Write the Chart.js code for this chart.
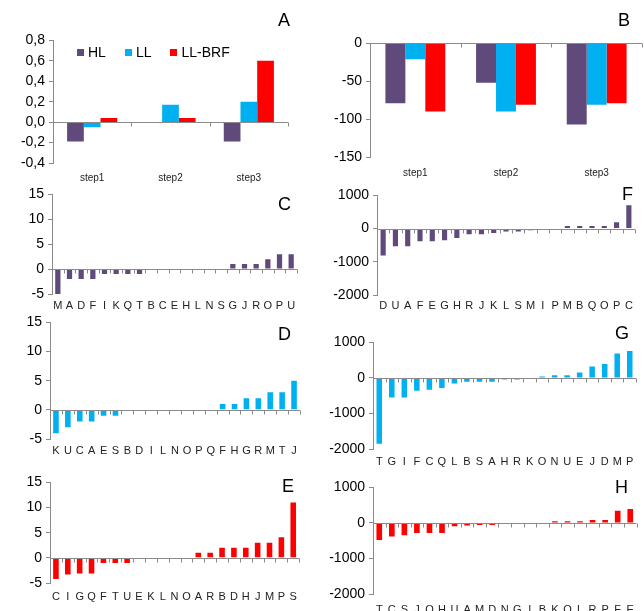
<!DOCTYPE html>
<html>
<head>
<meta charset="utf-8">
<script src="https://cdn.jsdelivr.net/npm/chart.js@4.4.1/dist/chart.umd.min.js"></script>
<style>
    body   { margin: 0; background: #fff; width: 644px; height: 611px; position: relative; overflow: hidden;
             font-family: "Liberation Sans", Arial, sans-serif; }
    .box   { position: absolute; }
    .tag   { position: absolute; font-size: 18px; line-height: 18px; color: #000; }
    .legend { position: absolute; left: 77px; top: 45px; display: flex; align-items: center;
              font-size: 14px; line-height: 14px; color: #000; }
    .legend span.sq { display: inline-block; width: 7px; height: 7px; margin-right: 4px; }
    .legend span.tx { margin-right: 19px; }
</style>
</head>
<body>
<script>
/* global Chart */

const FONT = '"Liberation Sans", Arial, sans-serif';
const AXIS = '#8a8a8a';

// ---------------------------------------------------------------------------
// Data
// ---------------------------------------------------------------------------

const seriesNames  = ['HL', 'LL', 'LL-BRF'];
const seriesColors = ['#604A7B', '#00B0F0', '#FF0000'];
const steps        = ['step1', 'step2', 'step3'];

// panel A
const aHL  = [-0.19, 0, -0.19];
const aLL  = [-0.05, 0.17, 0.2];
const aBRF = [0.04, 0.04, 0.6];

// panel B
const bHL  = [-79, -52, -107];
const bLL  = [-21, -90, -81];
const bBRF = [-90, -81, -79];

// panels C, D, E (HL, LL, LL-BRF)
const cCats = ['M','A','D','F','I','K','Q','T','B','C','E','H','L','N','S','G','J','R','O','P','U'];
const cVals = [-5, -2, -2, -2, -1, -1, -1, -1, 0, 0, 0, 0, 0, 0, 0, 1, 1, 1, 2, 3, 3];

const dCats = ['K','U','C','A','E','S','B','D','I','L','N','O','P','Q','F','H','G','R','M','T','J'];
const dVals = [-4, -3, -2, -2, -1, -1, 0, 0, 0, 0, 0, 0, 0, 0, 1, 1, 2, 2, 3, 3, 5];

const eCats = ['C','I','G','Q','F','T','U','E','K','L','N','O','A','R','B','D','H','J','M','P','S'];
const eVals = [-4.2, -3.3, -3.1, -3.1, -1, -1, -1, 0, 0, 0, 0, 0, 1, 1, 2, 2, 2, 3, 3, 4.1, 11];

// panels F, G, H
const fCats = ['D','U','A','F','E','G','H','R','J','K','L','S','M','I','P','M','B','Q','O','P','C'];
const fVals = [-810, -530, -530, -380, -380, -350, -280, -170, -170, -130, -90, -90, -50, 0, 0, 80, 80, 80, 80, 190, 700];

const gCats = ['T','G','I','F','C','Q','L','B','S','A','H','R','K','O','N','U','E','J','D','M','P'];
const gVals = [-1850, -550, -550, -360, -330, -280, -160, -110, -110, -110, -45, -45, 0, 40, 75, 75, 150, 320, 390, 690, 760];

const hCats = ['T','C','S','J','O','H','U','A','M','D','N','G','I','B','K','O','L','R','P','F','E'];
const hVals = [-480, -380, -350, -280, -280, -280, -95, -75, -55, -55, 0, 0, 0, 0, 45, 45, 45, 80, 80, 340, 390];

// ---------------------------------------------------------------------------
// Helpers
// ---------------------------------------------------------------------------

const plain = v => String(v);
const comma = v => v.toFixed(1).replace('.', ',');

function groupSets(hl, ll, brf) {
    return [hl, ll, brf].map((d, i) => ({
        label:           seriesNames[i],
        data:            d,
        backgroundColor: seriesColors[i],
        borderWidth:     0,
    }));
}

function singleSet(vals, i) {
    return [{ label: seriesNames[i], data: vals, backgroundColor: seriesColors[i], borderWidth: 0 }];
}

// zero line with small tick marks at the category boundaries (Excel style)
const zeroAxis = {
    id: 'zeroAxis',
    afterDatasetsDraw(chart) {
        const xs = chart.scales.x, ys = chart.scales.y;
        const ctx = chart.ctx;
        const y0 = Math.round(ys.getPixelForValue(0)) + 0.5;
        const n = xs.getLabels().length;
        ctx.save();
        ctx.strokeStyle = AXIS;
        ctx.lineWidth = 1;
        ctx.beginPath();
        ctx.moveTo(xs.left, y0);
        ctx.lineTo(xs.right, y0);
        for (let i = 0; i <= n; i++) {
            const px = Math.round(xs.getPixelForValue(i - 0.5)) + 0.5;
            ctx.moveTo(px, y0);
            ctx.lineTo(px, y0 + 4);
        }
        ctx.stroke();
        ctx.restore();
    },
};

function makePanel(p) {
    const yW = 50, pt = 12, pr = 4, xH = 26;
    const [L, T, R, B] = p.plot;
    const box = document.createElement('div');
    box.className = 'box';
    const cx = L - yW, cy = T - pt;
    box.style.left   = cx + 'px';
    box.style.top    = cy + 'px';
    box.style.width  = (R + pr - cx) + 'px';
    box.style.height = (B + xH - cy) + 'px';
    const cv = document.createElement('canvas');
    box.appendChild(cv);
    document.body.appendChild(box);

    new Chart(cv, {
        type: 'bar',
        data: { labels: p.cats, datasets: p.sets },
        plugins: [zeroAxis],
        options: {
            responsive:          true,
            maintainAspectRatio: false,
            animation:           false,
            layout:  { padding: { top: pt, right: pr, left: 0, bottom: 0 } },
            plugins: { legend: { display: false }, tooltip: { enabled: false } },
            datasets: { bar: { categoryPercentage: p.catPct, barPercentage: p.barPct } },
            scales: {
                x: {
                    offset: true,
                    grid:   { display: false, drawTicks: false },
                    border: { display: false },
                    ticks:  { color: '#222', font: { family: FONT, size: p.labelSize },
                              padding: p.labelPad, maxRotation: 0, autoSkip: false },
                    afterFit: s => { s.height = xH; },
                },
                y: {
                    min: p.min,
                    max: p.max,
                    ticks:  { stepSize: p.step, color: '#000', font: { family: FONT, size: 14 },
                              padding: 4, callback: p.fmt },
                    grid:   { drawOnChartArea: false, tickLength: 4, color: AXIS },
                    border: { color: AXIS },
                    afterFit: s => { s.width = yW; },
                },
            },
        },
    });
}

function addTag(text, left, top) {
    const d = document.createElement('div');
    d.className = 'tag';
    d.textContent = text;
    d.style.left = left + 'px';
    d.style.top  = top + 'px';
    document.body.appendChild(d);
}

// ---------------------------------------------------------------------------
// Panels
// ---------------------------------------------------------------------------

makePanel({ plot: [53, 40, 288, 163], cats: steps, sets: groupSets(aHL, aLL, aBRF),
            min: -0.4, max: 0.8, step: 0.2, fmt: comma, catPct: 0.64, barPct: 1, labelSize: 10, labelPad: 9 });
makePanel({ plot: [370, 43, 642, 157], cats: steps, sets: groupSets(bHL, bLL, bBRF),
            min: -150, max: 0, step: 50, fmt: plain, catPct: 0.66, barPct: 1, labelSize: 10, labelPad: 10 });

makePanel({ plot: [52, 194, 297, 294], cats: cCats, sets: singleSet(cVals, 0),
            min: -5, max: 15, step: 5, fmt: plain, catPct: 1, barPct: 0.45, labelSize: 11, labelPad: 5 });
makePanel({ plot: [377, 195, 635, 295], cats: fCats, sets: singleSet(fVals, 0),
            min: -2000, max: 1000, step: 1000, fmt: plain, catPct: 1, barPct: 0.42, labelSize: 11, labelPad: 4 });

makePanel({ plot: [50, 322, 300, 439], cats: dCats, sets: singleSet(dVals, 1),
            min: -5, max: 15, step: 5, fmt: plain, catPct: 1, barPct: 0.47, labelSize: 11, labelPad: 5 });
makePanel({ plot: [373, 342, 636, 449], cats: gCats, sets: singleSet(gVals, 1),
            min: -2000, max: 1000, step: 1000, fmt: plain, catPct: 1, barPct: 0.44, labelSize: 11, labelPad: 6 });

makePanel({ plot: [50, 482, 300, 583], cats: eCats, sets: singleSet(eVals, 2),
            min: -5, max: 15, step: 5, fmt: plain, catPct: 1, barPct: 0.47, labelSize: 11, labelPad: 7 });
makePanel({ plot: [373, 487, 639, 594], cats: hCats, sets: singleSet(hVals, 2),
            min: -2000, max: 1000, step: 1000, fmt: plain, catPct: 1, barPct: 0.45, labelSize: 11, labelPad: 9 });

// ---------------------------------------------------------------------------
// Legend (panel A) and panel letters
// ---------------------------------------------------------------------------

const legend = document.createElement('div');
legend.className = 'legend';
legend.innerHTML = seriesNames.map((n, i) =>
    `<span class="sq" style="background:${seriesColors[i]};"></span><span class="tx">${n}</span>`).join('');
document.body.appendChild(legend);

addTag('A', 278, 11);
addTag('B', 618, 11);
addTag('C', 278, 195);
addTag('F', 622, 185);
addTag('D', 278, 325);
addTag('G', 615, 324);
addTag('E', 282, 477);
addTag('H', 615, 478);
</script>
</body>
</html>
